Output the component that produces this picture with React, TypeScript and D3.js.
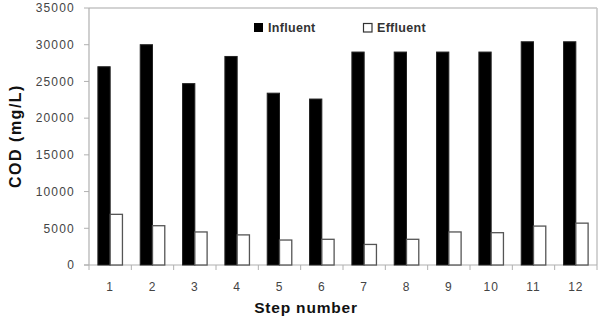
import React from "react";
import * as d3 from "d3";

const steps = ["1", "2", "3", "4", "5", "6", "7", "8", "9", "10", "11", "12"];
const influent = [27000, 30000, 24700, 28400, 23400, 22600, 29000, 29000, 29000, 29000, 30400, 30400];
const effluent = [6900, 5350, 4500, 4100, 3400, 3500, 2800, 3500, 4500, 4400, 5300, 5700];
const yTicks = [0, 5000, 10000, 15000, 20000, 25000, 30000, 35000];
const seriesNames = ["Influent", "Effluent"];

export default function App() {
  const W = 605, H = 318;
  const left = 89, right = 597, top = 8, bottom = 265;
  const x = d3.scaleBand().domain(steps).range([left, right]).paddingInner(0).paddingOuter(0);
  const y = d3.scaleLinear().domain([0, 35000]).range([bottom, top]);
  const barW = x.bandwidth() * 0.29;
  const tickColor = "#444";
  const font = "'Liberation Sans', Arial, sans-serif";
  return (
    <svg width={W} height={H} style={{ position: "absolute", left: 0, top: 0, background: "#fff" }}>
      <rect x={0} y={0} width={W} height={H} fill="#fff" />
      {/* plot border */}
      <line x1={left} y1={top} x2={right} y2={top} stroke="#c4c4c4" strokeWidth={1.5} />
      <line x1={right} y1={top} x2={right} y2={bottom} stroke="#c4c4c4" strokeWidth={1.5} />
      <line x1={left} y1={top} x2={left} y2={bottom} stroke="#b0b0b0" strokeWidth={1.2} />
      <line x1={left - 5} y1={bottom} x2={right} y2={bottom} stroke="#b0b0b0" strokeWidth={1.2} />
      {yTicks.map((t) => (
        <g key={t}>
          <line x1={left - 5} x2={left} y1={y(t)} y2={y(t)} stroke="#b0b0b0" />
          <text x={75} y={y(t)} dy="0.36em" textAnchor="end" fontFamily={font} fontSize={12} letterSpacing={1.2} fill={tickColor}>
            {t}
          </text>
        </g>
      ))}
      {steps.map((s) => (
        <line key={"xt" + s} x1={(x(s) as number)} x2={(x(s) as number)} y1={bottom} y2={bottom + 5} stroke="#b0b0b0" />
      ))}
      <line x1={right} x2={right} y1={bottom} y2={bottom + 5} stroke="#b0b0b0" />
      {steps.map((s, i) => {
        const cx = (x(s) as number) + x.bandwidth() / 2;
        return (
          <g key={"b" + s}>
            <rect x={cx - barW} y={y(influent[i])} width={barW} height={bottom - y(influent[i])} fill="#000" stroke="#222" strokeWidth={1} />
            <rect x={cx} y={y(effluent[i])} width={barW} height={bottom - y(effluent[i])} fill="#fff" stroke="#555" strokeWidth={1.3} />
            <text x={cx} y={287} dy="0.36em" textAnchor="middle" fontFamily={font} fontSize={12} letterSpacing={1} fill={tickColor}>
              {s}
            </text>
          </g>
        );
      })}
      {/* legend */}
      <rect x={254} y={23} width={9} height={9} fill="#000" />
      <text x={268} y={32} fontFamily={font} fontSize={12.5} fontWeight="bold" fill="#333" letterSpacing={0.3}>{seriesNames[0]}</text>
      <rect x={363.5} y={23.5} width={8.5} height={8.5} fill="#fff" stroke="#333" strokeWidth={1.2} />
      <text x={377} y={32} fontFamily={font} fontSize={12.5} fontWeight="bold" fill="#333" letterSpacing={0.3}>{seriesNames[1]}</text>
      {/* axis titles */}
      <text transform="translate(21,136) rotate(-90)" textAnchor="middle" fontFamily={font} fontSize={16} fontWeight="bold" fill="#111" letterSpacing={1.5}>
        COD (mg/L)
      </text>
      <text x={306} y={313} textAnchor="middle" fontFamily={font} fontSize={15.5} fontWeight="bold" fill="#111" letterSpacing={0.8}>
        Step number
      </text>
    </svg>
  );
}
